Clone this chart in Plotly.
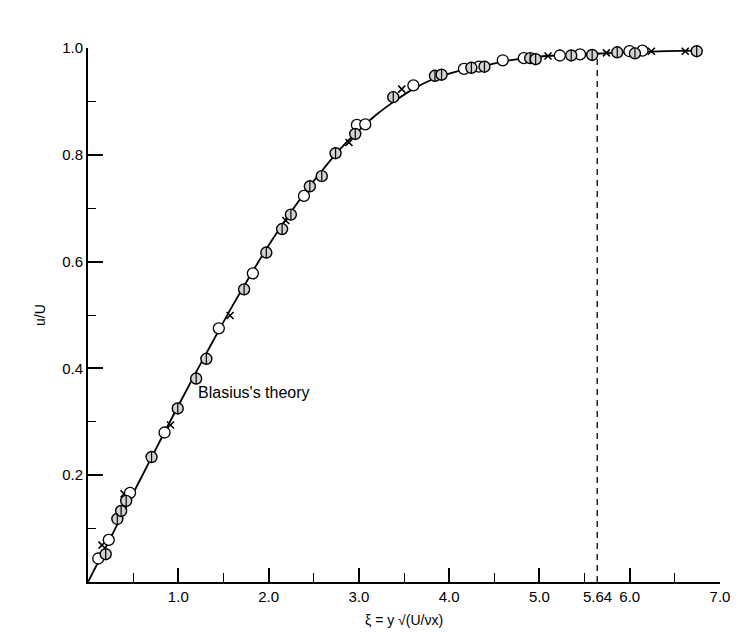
import plotly.graph_objects as go

# Blasius theory curve (eta, u/U)
curve_eta = [0.0, 0.2, 0.4, 0.6, 0.8, 1.0, 1.2, 1.4, 1.6, 1.8, 2.0, 2.2, 2.4, 2.6, 2.8,
             3.0, 3.2, 3.4, 3.6, 3.8, 4.0, 4.2, 4.4, 4.6, 4.8, 5.0, 5.2, 5.4, 5.6, 5.8,
             6.0, 6.4, 6.75]
curve_u = [0.0, 0.066, 0.133, 0.199, 0.265, 0.330, 0.394, 0.456, 0.517, 0.575, 0.630,
           0.681, 0.729, 0.772, 0.812, 0.846, 0.876, 0.901, 0.923, 0.940, 0.952, 0.961,
           0.967, 0.975, 0.980, 0.984, 0.986, 0.987, 0.989, 0.991, 0.992, 0.994, 0.995]

# open circles
open_eta = [0.114, 0.230, 0.466, 0.848, 1.449, 1.826, 2.392, 2.978, 3.071, 3.604, 4.164,
            4.330, 4.594, 4.827, 5.226, 5.450, 5.997, 6.142]
open_u = [0.044, 0.079, 0.167, 0.280, 0.475, 0.578, 0.723, 0.856, 0.857, 0.930, 0.961,
          0.965, 0.977, 0.981, 0.986, 0.988, 0.994, 0.995]

# hatched circles
hatch_eta = [0.196, 0.325, 0.367, 0.423, 0.704, 0.994, 1.198, 1.311, 1.729, 1.975, 2.150,
             2.247, 2.457, 2.589, 2.742, 2.960, 3.381, 3.843, 3.916, 4.246, 4.391, 4.898,
             4.958, 5.352, 5.584, 5.862, 6.058, 6.742]
hatch_u = [0.052, 0.118, 0.133, 0.152, 0.234, 0.325, 0.381, 0.418, 0.548, 0.617, 0.661,
           0.688, 0.741, 0.760, 0.803, 0.839, 0.908, 0.948, 0.950, 0.963, 0.965, 0.981,
           0.979, 0.986, 0.987, 0.992, 0.990, 0.994]

# cross markers
cross_eta = [0.155, 0.400, 0.914, 1.573, 2.191, 2.891, 3.475, 5.095, 5.742, 6.240, 6.615]
cross_u = [0.069, 0.165, 0.294, 0.499, 0.677, 0.823, 0.923, 0.985, 0.991, 0.994, 0.994]

# boundary-layer thickness marker
delta_eta = [5.64, 5.64]
delta_u = [0.0, 0.985]

x_ticks = [1.0, 2.0, 3.0, 4.0, 5.0, 6.0, 7.0]
x_ticktext = ["1.0", "2.0", "3.0", "4.0", "5.0", "6.0", "7.0"]
y_ticks = [0.2, 0.4, 0.6, 0.8, 1.0]
y_ticktext = ["0.2", "0.4", "0.6", "0.8", "1.0"]

FONT = "Liberation Sans"

fig = go.Figure()
fig.add_trace(go.Scatter(x=delta_eta, y=delta_u, mode="lines",
                         line=dict(color="black", width=1.3, dash="6px,5px"),
                         hoverinfo="skip", showlegend=False, cliponaxis=False))
fig.add_trace(go.Scatter(x=curve_eta, y=curve_u, mode="lines", line_shape="spline",
                         line=dict(color="black", width=1.8),
                         showlegend=False, cliponaxis=False))
fig.add_trace(go.Scatter(x=cross_eta, y=cross_u, mode="markers",
                         marker=dict(symbol="x-thin", size=7, color="black",
                                     line=dict(color="black", width=1.6)),
                         showlegend=False, cliponaxis=False))
fig.add_trace(go.Scatter(x=open_eta, y=open_u, mode="markers",
                         marker=dict(symbol="circle", size=11, color="white",
                                     line=dict(color="black", width=1.3)),
                         showlegend=False, cliponaxis=False))
fig.add_trace(go.Scatter(x=hatch_eta, y=hatch_u, mode="markers",
                         marker=dict(symbol="circle", size=11, color="#d2d2d2",
                                     line=dict(color="black", width=1.4)),
                         showlegend=False, cliponaxis=False))
fig.add_trace(go.Scatter(x=hatch_eta, y=hatch_u, mode="markers",
                         marker=dict(symbol="line-ns", size=8, color="black",
                                     line=dict(color="black", width=1.2)),
                         showlegend=False, cliponaxis=False, hoverinfo="skip"))

fig.update_layout(
    width=742, height=632,
    margin=dict(l=80, r=30, t=40, b=58),
    paper_bgcolor="white", plot_bgcolor="white",
    font=dict(family=FONT, size=15, color="black"),
    xaxis=dict(range=[0, 7], tickvals=x_ticks, ticktext=x_ticktext,
               ticks="inside", ticklen=14, tickwidth=1.5, tickcolor="black",
               showline=True, linecolor="black", linewidth=2,
               showgrid=False, zeroline=False,
               minor=dict(tickvals=[0.5, 1.5, 2.5, 3.5, 4.5, 5.5, 6.5],
                          ticks="inside", ticklen=9, tickwidth=1.3, tickcolor="black"),
               tickfont=dict(family=FONT, size=15)),
    yaxis=dict(range=[0, 1.0], tickvals=y_ticks, ticktext=y_ticktext,
               ticks="inside", ticklen=15, tickwidth=1.5, tickcolor="black",
               showline=True, linecolor="black", linewidth=2,
               showgrid=False, zeroline=False,
               minor=dict(tickvals=[0.1, 0.3, 0.5, 0.7, 0.9],
                          ticks="inside", ticklen=8, tickwidth=1.3, tickcolor="black"),
               tickfont=dict(family=FONT, size=15)),
)

fig.add_annotation(x=5.64, y=0, xref="x", yref="y", text="5.64", showarrow=False,
                   yanchor="top", xanchor="center", yshift=-4,
                   font=dict(family=FONT, size=15))
fig.add_annotation(x=1.2, y=0.355, xref="x", yref="y", text="Blasius's theory",
                   showarrow=False, xanchor="left", yanchor="middle",
                   font=dict(family=FONT, size=16))
fig.add_annotation(x=3.5, y=0, xref="x", yref="paper", text="ξ = y √(U/νx)",
                   showarrow=False, yanchor="top", xanchor="center", yshift=-28,
                   font=dict(family=FONT, size=14))
fig.add_annotation(x=0, y=0.5, xref="paper", yref="y", text="u/U",
                   showarrow=False, textangle=-90, xanchor="center", xshift=-48,
                   font=dict(family=FONT, size=14))

fig.write_html("out.html")
